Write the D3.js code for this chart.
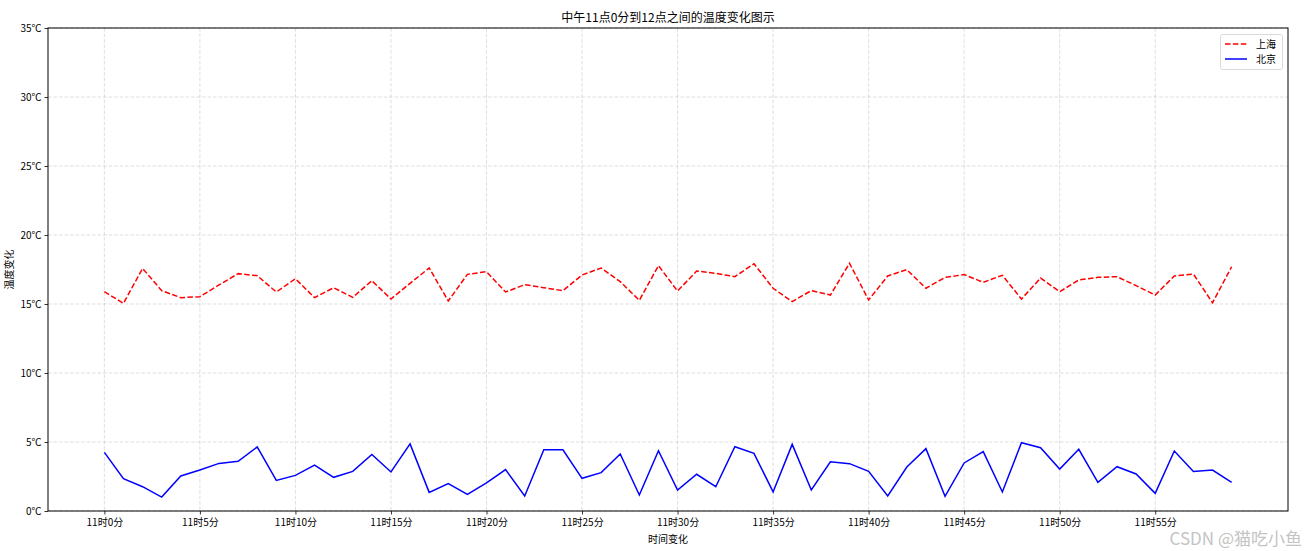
<!DOCTYPE html>
<html><head><meta charset="utf-8">
<script src="https://cdn.jsdelivr.net/npm/d3@7"></script>
<style>body{margin:0;background:#fff;} text{font-family:"Noto Sans CJK SC","DejaVu Sans",sans-serif;}</style>
</head><body>
<svg id="chart" width="1315" height="551"></svg>
<script>
const minutes = d3.range(0, 60);
const tickMinutes = [0,5,10,15,20,25,30,35,40,45,50,55];
const tickLabels = tickMinutes.map(m => "11时" + m + "分");
const yTicks = [0,5,10,15,20,25,30,35];
const yTickLabels = yTicks.map(v => v + "℃");
const shanghai = [15.89,15.05,17.58,15.97,15.46,15.53,16.38,17.2,17.05,15.87,16.83,15.46,16.18,15.48,16.69,15.36,16.5,17.61,15.22,17.15,
  17.34,15.87,16.4,16.18,15.97,17.1,17.61,16.62,15.27,17.78,15.94,17.39,17.22,16.98,17.92,16.14,15.17,15.97,15.65,17.95,
  15.29,17.03,17.49,16.14,16.93,17.13,16.57,17.08,15.36,16.88,15.89,16.74,16.93,16.98,16.33,15.65,17.03,17.17,15.09,17.7];
const beijing = [4.25,2.34,1.76,1.01,2.54,2.97,3.45,3.6,4.64,2.22,2.58,3.33,2.44,2.87,4.1,2.83,4.86,1.35,1.98,1.21,
  2.03,3.0,1.09,4.44,4.44,2.37,2.78,4.13,1.16,4.37,1.52,2.66,1.76,4.66,4.18,1.38,4.83,1.52,3.57,3.43,
  2.87,1.09,3.19,4.52,1.06,3.48,4.3,1.38,4.95,4.59,3.04,4.47,2.08,3.21,2.68,1.28,4.35,2.87,2.97,2.08];
const seriesNames = ["上海", "北京"];

const L = 48, R = 1288, T = 28, B = 511;
const svg = d3.select("#chart");
const x = d3.scaleLinear().domain([-2.95, 61.95]).range([L, R]);
const y = d3.scaleLinear().domain([0, 35]).range([B, T]);

// grid
const grid = svg.append("g").attr("stroke", "#b0b0b0").attr("stroke-opacity", 0.5)
  .attr("stroke-width", 0.8).attr("stroke-dasharray", "3.7,1.8");
grid.selectAll(".gx").data(tickMinutes).join("line")
  .attr("x1", d => x(d)).attr("x2", d => x(d)).attr("y1", T).attr("y2", B);
grid.selectAll(".gy").data(yTicks).join("line")
  .attr("x1", L).attr("x2", R).attr("y1", d => y(d)).attr("y2", d => y(d));

// axes
const xAxis = d3.axisBottom(x).tickValues(tickMinutes).tickFormat((d, i) => tickLabels[i]).tickSize(3.5).tickPadding(4);
const yAxis = d3.axisLeft(y).tickValues(yTicks).tickFormat((d, i) => yTickLabels[i]).tickSize(3.5).tickPadding(3);
const gx = svg.append("g").attr("transform", `translate(0,${B})`).call(xAxis);
const gy = svg.append("g").attr("transform", `translate(${L},0)`).call(yAxis);
[gx, gy].forEach(g => {
  g.select(".domain").remove();
  g.selectAll(".tick line").attr("stroke", "#000").attr("stroke-width", 0.8);
  g.selectAll(".tick text").attr("fill", "#000").style("font-size", "10px");
});

// lines
const line = d3.line().x((d, i) => x(minutes[i])).y(d => y(d));
svg.append("path").datum(shanghai).attr("d", line).attr("fill", "none")
  .attr("stroke", "red").attr("stroke-width", 1.5).attr("stroke-dasharray", "5.5,2.4");
svg.append("path").datum(beijing).attr("d", line).attr("fill", "none")
  .attr("stroke", "blue").attr("stroke-width", 1.5);

// frame
svg.append("rect").attr("x", L).attr("y", T).attr("width", R - L).attr("height", B - T)
  .attr("fill", "none").attr("stroke", "#000").attr("stroke-width", 1);

// titles
svg.append("text").attr("x", (L + R) / 2).attr("y", 22).attr("text-anchor", "middle")
  .style("font-size", "12px").text("中午11点0分到12点之间的温度变化图示");
svg.append("text").attr("x", (L + R) / 2).attr("y", 543).attr("text-anchor", "middle")
  .style("font-size", "10px").text("时间变化");
svg.append("text").attr("transform", `translate(13,${(T + B) / 2}) rotate(-90)`).attr("text-anchor", "middle")
  .style("font-size", "10px").text("温度变化");

// legend
const lg = svg.append("g");
lg.append("rect").attr("x", 1220.5).attr("y", 34.5).attr("width", 62).attr("height", 35).attr("rx", 2)
  .attr("fill", "#fff").attr("stroke", "#d0d0d0").attr("stroke-width", 0.8);
const styles = [{c: "red", dash: "5.5,2.4"}, {c: "blue", dash: null}];
seriesNames.forEach((n, i) => {
  const yy = 44 + i * 15;
  lg.append("line").attr("x1", 1225).attr("x2", 1247).attr("y1", yy).attr("y2", yy)
    .attr("stroke", styles[i].c).attr("stroke-width", 1.5).attr("stroke-dasharray", styles[i].dash);
  lg.append("text").attr("x", 1256).attr("y", yy + 3.5).style("font-size", "10px").text(n);
});

// watermark
svg.append("text").attr("x", 1302).attr("y", 545).attr("text-anchor", "end")
  .attr("fill", "#c4c4c4").style("font-size", "17px").text("CSDN @猫吃小鱼");
</script>
</body></html>
